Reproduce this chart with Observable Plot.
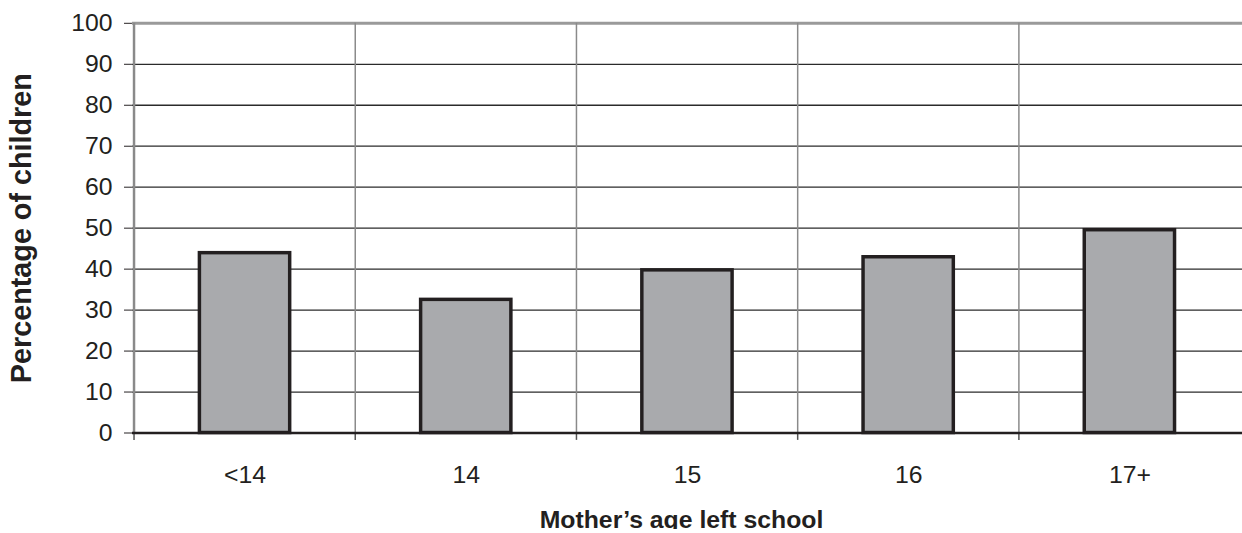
<!DOCTYPE html>
<html>
<head>
<meta charset="utf-8">
<script src="https://cdn.jsdelivr.net/npm/d3@7"></script>
<script src="https://cdn.jsdelivr.net/npm/@observablehq/plot@0.6"></script>
<style>
  html, body { margin: 0; padding: 0; background: #fff; overflow: hidden; }
  #chart svg { display: block; }
</style>
</head>
<body>
<div id="chart"></div>
<script>
// Percentage of children, by the age at which their mother left school
const categories = ["<14", "14", "15", "16", "17+"];
const percentages = [43.9, 32.5, 39.7, 42.9, 49.5];
const yTicks = [0, 10, 20, 30, 40, 50, 60, 70, 80, 90, 100];
const xTitle = "Mother\u2019s age left school";
const yTitle = "Percentage of children";

const width = 1252;
const height = 533;
const margin = {top: 23, right: 0, bottom: 97, left: 133};
// width of one category band, used to shift rules onto band edges
const band = (width - margin.left - margin.right) / categories.length;

const rows = categories.map((age, i) => ({age, pct: percentages[i]}));
const ink = "#231f20";

const chart = Plot.plot({
  width, height,
  marginTop: margin.top, marginRight: margin.right,
  marginBottom: margin.bottom, marginLeft: margin.left,
  style: {fontFamily: "'Liberation Sans', Arial, sans-serif", fontSize: "25px", color: ink, background: "#fff", overflow: "visible"},
  x: {domain: categories, padding: 0, axis: null},
  y: {domain: [0, 100], axis: null},
  marks: [
    // horizontal gridlines
    Plot.ruleY(yTicks.filter(t => t > 0 && t < 100), {stroke: "#2b2b2b", strokeWidth: 1.3}),
    Plot.ruleY([100], {stroke: "#9a9a9a", strokeWidth: 3}),
    // vertical separators between categories
    Plot.ruleX(categories.slice(1), {x: d => d, dx: -band / 2, y1: 0, y2: 100, stroke: "#8a8a8a", strokeWidth: 1.5}),
    // small ticks below the baseline at each band edge
    Plot.ruleX(categories, {x: d => d, dx: -band / 2, y1: 0, y2: -1.8, stroke: "#555", strokeWidth: 1.5}),
    // left axis line
    Plot.ruleX([categories[0]], {x: d => d, dx: -band / 2, y1: 0, y2: 100, stroke: "#8a8a8a", strokeWidth: 2.5}),
    // bars
    Plot.barY(rows, {x: "age", y: "pct", fill: "#a9aaad", stroke: ink, strokeWidth: 3.5, insetLeft: 66, insetRight: 66}),
    // baseline
    Plot.ruleY([0], {stroke: ink, strokeWidth: 2.5}),
    // y ticks, with their labels set a little further out
    Plot.axisY({ticks: yTicks, tickSize: 8, tickFormat: () => "", stroke: ink, label: null}),
    Plot.text(yTicks, {y: d => d, text: d => String(d), frameAnchor: "left", textAnchor: "end", dx: -20, fontSize: 25, fill: ink}),
    Plot.axisX({tickSize: 0, tickPadding: 33, fontSize: 25, label: null}),
    Plot.text([xTitle], {frameAnchor: "bottom", dy: 96, dx: -6, fontSize: 25, fontWeight: "bold", fill: ink}),
    Plot.text([yTitle], {frameAnchor: "left", dx: -112, rotate: -90, textAnchor: "middle", fontSize: 29, fontWeight: "bold", fill: ink})
  ]
});

document.getElementById("chart").appendChild(chart);
</script>
</body>
</html>
